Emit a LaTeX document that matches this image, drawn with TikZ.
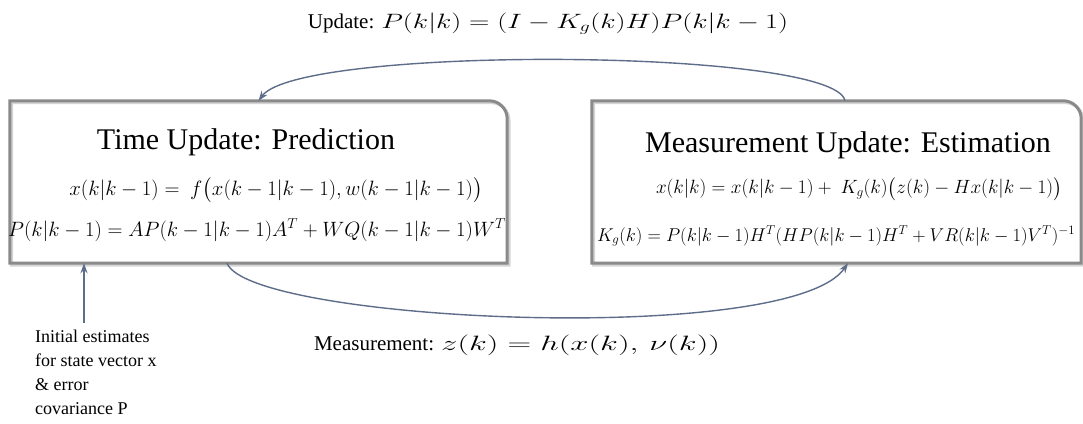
\documentclass[tikz,border=0pt]{standalone}
\usepackage{amsmath}
\usepackage{graphicx}
\usepackage{fontspec}
\setmainfont{Liberation Serif}
\usetikzlibrary{arrows.meta}
\definecolor{boxgray}{HTML}{8A8A8A}
\definecolor{shadowgray}{HTML}{D4D4D4}
\definecolor{arrowc}{HTML}{5E6E8A}
\tikzset{
  boxnode/.style={draw=none, rectangle, inner sep=0pt},
  boxframe/.style={draw=boxgray, line width=3pt, line join=miter},
  boxshadow/.style={draw=shadowgray, line width=3pt},
  conn/.style={draw=arrowc, line width=1.4pt, -{Stealth[length=10pt,width=7pt]}},
  titletext/.style={font=\fontsize{30}{36}\selectfont, inner sep=0pt},
  eqtext/.style={font=\fontsize{20}{24}\selectfont, inner sep=0pt},
  labeltext/.style={font=\fontsize{21}{25}\selectfont, inner sep=0pt},
  notetext/.style={font=\fontsize{18}{24}\selectfont, align=left, inner sep=0pt}
}
\newcommand{\roundbox}[1]{%
  (#1.south west) -- (#1.north west) -- ([xshift=-18pt]#1.north east)
  .. controls ([xshift=-8pt]#1.north east) and ([yshift=-8pt]#1.north east) ..
  ([yshift=-18pt]#1.north east) -- (#1.south east) -- cycle}
\newcommand{\lblmath}[2]{\scalebox{#1}[1]{\fontsize{22}{26}\selectfont$#2$}}
\begin{document}
\begin{tikzpicture}[x=1pt,y=-1pt]
\useasboundingbox (0,0) rectangle (1083,423);
\fill[white] (0,0) rectangle (1083,423);

% boxes
\node[boxnode, minimum width=497pt, minimum height=162pt] (tu) at (258.5,182) {};
\node[boxnode, minimum width=489pt, minimum height=162pt] (mu) at (836.5,182) {};

\begin{scope}[transform canvas={shift={(1.8pt,-1.8pt)}}]
  \draw[boxshadow] \roundbox{tu};
  \draw[boxshadow] \roundbox{mu};
\end{scope}
\draw[boxframe] \roundbox{tu};
\draw[boxframe] \roundbox{mu};

% box contents
\node[titletext] (tutitle) at (246,142) {Time Update: Prediction};
\node[titletext] (mutitle) at (848,145) {Measurement Update: Estimation};
\node[eqtext] (tueqa) at (276,190) {$x(k|k-1) =\ f\bigl(x(k-1|k-1), w(k-1|k-1)\bigr)$};
\node[eqtext] (tueqb) at (257,230) {$P(k|k-1) = AP(k-1|k-1)A^T + WQ(k-1|k-1)W^T$};
\node[eqtext] (mueqa) at (859,189) {\resizebox{406pt}{!}{$x(k|k) = x(k|k-1) +\ K_g(k)\bigl(z(k) - Hx(k|k-1)\bigr)$}};
\node[eqtext] (mueqb) at (836,236) {\resizebox{478pt}{!}{$K_g(k) = P(k|k-1)H^T(HP(k|k-1)H^T + VR(k|k-1)V^T)^{-1}$}};

% outer labels
\node[labeltext] (upd) at (548,24) {Update: \lblmath{1.36}{P(k|k) = (I - K_g(k)H)P(k|k-1)}};
\node[labeltext] (meas) at (517,345) {Measurement: \lblmath{1.58}{z(k) = h(x(k),\,\nu(k))}};
\node[notetext, anchor=north west] (init) at (35,330) {Initial estimates\\for state vector x\\\& error\\covariance P};

% connectors
\draw[conn] ([xshift=8.5pt]mu.north) .. controls (835,48) and (300,45) .. (tu.north);
\draw[conn] ([xshift=-31.5pt]tu.south) .. controls (250,322) and (790,347) .. ([xshift=11.5pt]mu.south);
\coordinate (initarrow) at (84,323);
\draw[conn] (initarrow) -- (initarrow |- tu.south);
\end{tikzpicture}
\end{document}
